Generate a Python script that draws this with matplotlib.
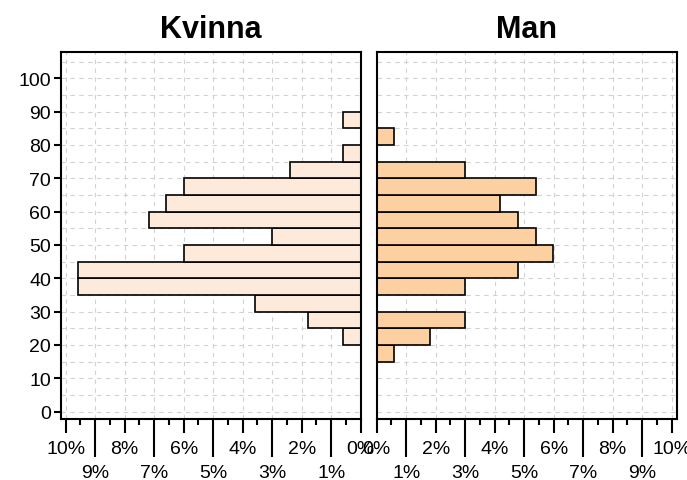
import numpy as np
import matplotlib
matplotlib.use('Agg')
import matplotlib.pyplot as plt

plt.rcParams['font.family'] = ['Liberation Sans', 'DejaVu Sans']

# age bins (start of each 5-year group) and share of all persons (%)
age_start = [15, 20, 25, 30, 35, 40, 45, 50, 55, 60, 65, 70, 75, 80, 85]
kvinna_pct = [0, 0.60, 1.80, 3.59, 9.58, 9.58, 5.99, 2.99, 7.19, 6.59, 5.99, 2.40, 0.60, 0, 0.60]
man_pct = [0.60, 1.80, 2.99, 0, 2.99, 4.79, 5.99, 5.39, 4.79, 4.19, 5.39, 2.99, 0, 0.60, 0]
panel_titles = ['Kvinna', 'Man']
fills = ['#fdeadb', '#fdd0a2']

even_ticks = [0, 2, 4, 6, 8, 10]
odd_ticks = [1, 3, 5, 7, 9]
y_ticks = list(range(0, 101, 10))

W, H = 687, 481
fig = plt.figure(figsize=(W / 100, H / 100), dpi=100)
axL = fig.add_axes([60.7 / W, 61 / H, 300 / W, 366.7 / H])
axR = fig.add_axes([376.7 / W, 61 / H, 300 / W, 366.7 / H])

for ax, vals, title, fc in zip([axL, axR], [kvinna_pct, man_pct], panel_titles, fills):
    # dashed background grid
    for yv in range(0, 106, 5):
        ax.axhline(yv, color='#d2d2d2', lw=0.8, ls=(0, (4, 4)), zorder=0)
    for xv in range(1, 11):
        ax.axvline(xv, color='#d2d2d2', lw=0.8, ls=(0, (4, 4)), zorder=0)

    ys = [a for a, v in zip(age_start, vals) if v > 0]
    ws = [v for v in vals if v > 0]
    ax.barh(ys, ws, height=5, align='edge', color=fc, edgecolor='black',
            linewidth=1.2, zorder=2)

    ax.set_ylim(-2.2, 107.8)
    ax.set_xlim(0, 10.17)
    for sp in ax.spines.values():
        sp.set_linewidth(1.5)

    ax.set_xticks(even_ticks)
    ax.set_xticklabels([f'{t}%' for t in even_ticks])
    ax.set_xticks(odd_ticks, minor=True)
    ax.set_xticklabels([f'{t}%' for t in odd_ticks], minor=True)
    ax.tick_params(axis='x', which='major', length=10, width=1.5, pad=5, labelsize=14)
    ax.tick_params(axis='x', which='minor', length=27.4, width=1.5, pad=5, labelsize=14)

    sec = ax.secondary_xaxis('bottom')
    sec.set_xticks(np.arange(0.5, 10, 1))
    sec.tick_params(length=4.3, width=1.5, labelbottom=False)
    sec.spines['bottom'].set_visible(False)

    ax.set_title(title, fontsize=22, fontweight='bold', pad=11)

axL.invert_xaxis()
axL.set_yticks(y_ticks)
axL.tick_params(axis='y', length=5, width=1.5, labelsize=14, pad=2)
axR.set_yticks([])

fig.savefig('out.png', dpi=100)
